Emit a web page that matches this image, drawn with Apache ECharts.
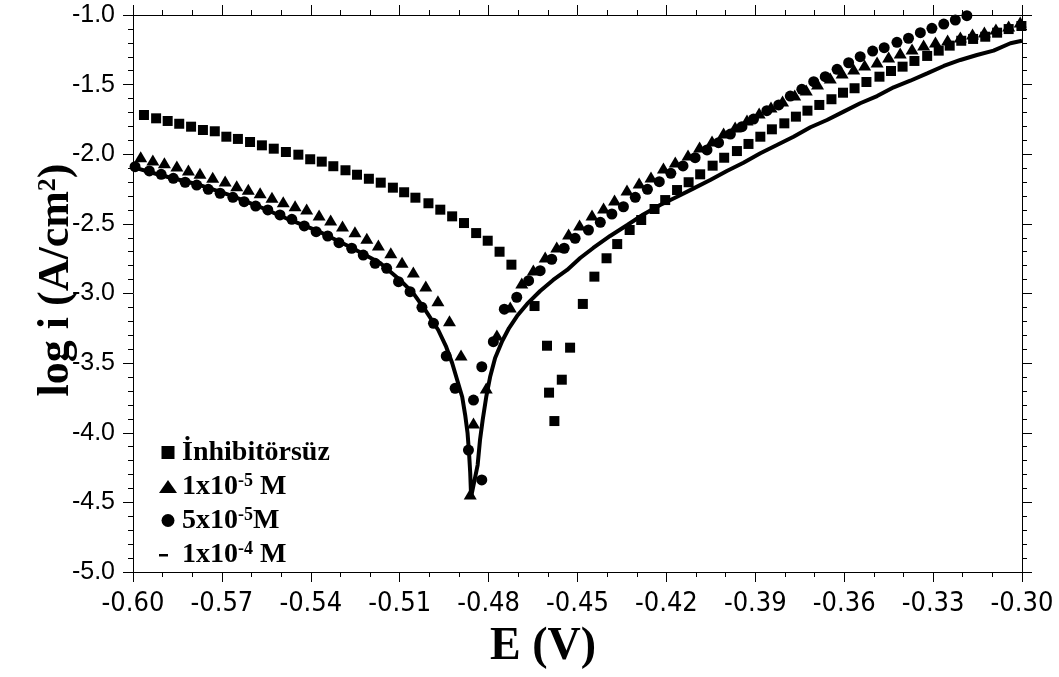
<!DOCTYPE html>
<html>
<head>
<meta charset="utf-8">
<script src="https://cdn.jsdelivr.net/npm/echarts@6/dist/echarts.min.js"></script>
<style>
  html, body { margin: 0; padding: 0; background: #fff; }
  #chart { width: 1059px; height: 677px; }
</style>
</head>
<body>
<div id="chart"></div>
<script>
// Tafel polarisation curves: potential E (V) vs log i (A/cm2)

const seriesNames = ['İnhibitörsüz', '1x10-5 M', '5x10-5 M', '1x10-4 M'];
const legendLabels = ['İnhibitörsüz', '1x10{sup|-5} M', '5x10{sup|-5}M', '1x10{sup|-4} M'];

const xTicks = { min: -0.60, max: -0.30, step: 0.03 };
const yTicks = { min: -5.0, max: -1.0, step: 0.5 };

// İnhibitörsüz (blank)
const blankE = [-0.5963, -0.5922, -0.5883, -0.5844, -0.5804, -0.5764, -0.5724, -0.5685, -0.5646, -0.5605,
  -0.5565, -0.5525, -0.5484, -0.5442, -0.5402, -0.5363, -0.5324, -0.5283, -0.5244, -0.5204,
  -0.5164, -0.5123, -0.5085, -0.5047, -0.5003, -0.4963, -0.4923, -0.4883, -0.4842, -0.4803,
  -0.4763, -0.4723, -0.4645, -0.4603, -0.4596, -0.4578, -0.4553, -0.4525, -0.4482,
  -0.4443, -0.4402, -0.4366, -0.4324, -0.4285, -0.4240, -0.4204, -0.4164, -0.4125, -0.4086,
  -0.4044, -0.4005, -0.3962, -0.3923, -0.3883, -0.3844, -0.3802, -0.3763, -0.3724, -0.3684,
  -0.3643, -0.3604, -0.3565, -0.3525, -0.3481, -0.3442, -0.3403, -0.3363, -0.3320, -0.3281,
  -0.3244, -0.3205, -0.3165, -0.3124, -0.3084, -0.3045, -0.3002];
const blankLogI = [-1.718, -1.742, -1.761, -1.781, -1.802, -1.826, -1.835, -1.874, -1.890, -1.912,
  -1.936, -1.960, -1.984, -2.003, -2.036, -2.053, -2.086, -2.115, -2.147, -2.176,
  -2.204, -2.240, -2.273, -2.312, -2.352, -2.398, -2.446, -2.494, -2.566, -2.621,
  -2.700, -2.793, -3.090, -3.375, -3.712, -3.916, -3.619, -3.389, -3.075,
  -2.879, -2.747, -2.645, -2.544, -2.472, -2.393, -2.329, -2.257, -2.201, -2.144,
  -2.082, -2.025, -1.977, -1.926, -1.874, -1.821, -1.778, -1.730, -1.687, -1.646,
  -1.605, -1.558, -1.526, -1.481, -1.443, -1.402, -1.371, -1.330, -1.294, -1.256,
  -1.220, -1.185, -1.172, -1.156, -1.127, -1.101, -1.079];

// 1x10-5 M
const c1E = [-0.5974, -0.5933, -0.5894, -0.5852, -0.5813, -0.5774, -0.5731, -0.5689, -0.5650, -0.5611,
  -0.5571, -0.5531, -0.5493, -0.5453, -0.5414, -0.5372, -0.5333, -0.5293, -0.5251, -0.5211,
  -0.5172, -0.5130, -0.5092, -0.5054, -0.5012, -0.4971, -0.4932, -0.4893, -0.4862,
  -0.4851, -0.4808, -0.4772, -0.4727, -0.4688, -0.4649, -0.4609, -0.4570, -0.4530, -0.4493,
  -0.4451, -0.4412, -0.4375, -0.4333, -0.4292, -0.4252, -0.4210, -0.4170, -0.4127, -0.4088,
  -0.4046, -0.4007, -0.3968, -0.3928, -0.3887, -0.3847, -0.3808, -0.3767, -0.3728, -0.3690,
  -0.3647, -0.3607, -0.3568, -0.3531, -0.3489, -0.3450, -0.3411, -0.3371, -0.3332, -0.3292,
  -0.3251, -0.3208, -0.3167, -0.3127, -0.3088, -0.3045, -0.3006];
const c1LogI = [-2.018, -2.041, -2.061, -2.084, -2.113, -2.137, -2.166, -2.192, -2.226, -2.252,
  -2.276, -2.309, -2.341, -2.369, -2.393, -2.436, -2.472, -2.515, -2.556, -2.604,
  -2.652, -2.707, -2.776, -2.846, -2.946, -3.052, -3.195, -3.442, -4.440,
  -3.930, -3.679, -3.298, -3.097, -2.925, -2.831, -2.738, -2.666, -2.573, -2.508,
  -2.436, -2.386, -2.329, -2.257, -2.206, -2.163, -2.099, -2.056, -2.005, -1.948,
  -1.905, -1.847, -1.804, -1.754, -1.704, -1.661, -1.618, -1.575, -1.539, -1.496,
  -1.452, -1.417, -1.388, -1.359, -1.338, -1.302, -1.273, -1.244, -1.215, -1.194,
  -1.180, -1.158, -1.136, -1.122, -1.101, -1.079, -1.050];

// 5x10-5 M
const c2E = [-0.5993, -0.5945, -0.5905, -0.5864, -0.5824, -0.5785, -0.5746, -0.5706, -0.5663, -0.5625,
  -0.5586, -0.5545, -0.5504, -0.5464, -0.5422, -0.5382, -0.5343, -0.5305, -0.5262, -0.5223,
  -0.5183, -0.5144, -0.5104, -0.5065, -0.5025, -0.4986, -0.4943, -0.4913, -0.4868, -0.4851,
  -0.4823, -0.4823, -0.4784,
  -0.4747, -0.4705, -0.4665, -0.4626, -0.4587, -0.4545, -0.4508, -0.4463, -0.4423, -0.4384,
  -0.4345, -0.4305, -0.4264, -0.4224, -0.4185, -0.4144, -0.4103, -0.4063, -0.4024, -0.3984,
  -0.3945, -0.3906, -0.3861, -0.3821, -0.3782, -0.3743, -0.3703, -0.3664, -0.3624, -0.3585,
  -0.3546, -0.3504, -0.3465, -0.3422, -0.3383, -0.3343, -0.3304, -0.3264, -0.3225, -0.3186];
const c2LogI = [-2.089, -2.120, -2.144, -2.173, -2.201, -2.221, -2.252, -2.280, -2.309, -2.341,
  -2.372, -2.400, -2.436, -2.467, -2.515, -2.556, -2.587, -2.635, -2.675, -2.724,
  -2.783, -2.819, -2.915, -2.987, -3.099, -3.214, -3.449, -3.681, -4.124, -3.765,
  -4.339, -3.526, -3.346,
  -3.113, -3.027, -2.908, -2.836, -2.754, -2.675, -2.604, -2.544, -2.489, -2.429,
  -2.377, -2.309, -2.252, -2.197, -2.137, -2.084, -2.025, -1.969, -1.917, -1.855,
  -1.802, -1.747, -1.687, -1.646, -1.582, -1.534, -1.479, -1.443, -1.390, -1.343,
  -1.299, -1.259, -1.235, -1.196, -1.167, -1.127, -1.096, -1.065, -1.036, -1.005];

// 1x10-4 M (continuous scan)
const c3E = [-0.6000, -0.5909, -0.5774, -0.5673, -0.5571, -0.5470, -0.5369, -0.5267, -0.5166, -0.5099,
  -0.5055, -0.5014, -0.4970, -0.4943, -0.4923, -0.4906, -0.4889, -0.4879, -0.4871, -0.4866,
  -0.4862, -0.4859,
  -0.4837, -0.4829, -0.4820, -0.4808, -0.4795, -0.4778, -0.4754, -0.4731, -0.4704, -0.4670,
  -0.4626, -0.4582, -0.4535, -0.4491, -0.4447, -0.4390, -0.4332, -0.4278, -0.4221, -0.4164,
  -0.4108, -0.4052, -0.3996, -0.3940, -0.3883, -0.3827, -0.3771, -0.3714, -0.3658, -0.3602,
  -0.3546, -0.3489, -0.3433, -0.3377, -0.3320, -0.3264, -0.3208, -0.3152, -0.3096, -0.3039,
  -0.3000];
const c3LogI = [-2.092, -2.149, -2.221, -2.293, -2.379, -2.472, -2.558, -2.666, -2.781, -2.903,
  -2.996, -3.118, -3.262, -3.384, -3.499, -3.621, -3.743, -3.873, -4.002, -4.145,
  -4.289, -4.461,
  -4.232, -4.052, -3.908, -3.743, -3.600, -3.463, -3.341, -3.248, -3.162, -3.075,
  -2.982, -2.903, -2.831, -2.745, -2.673, -2.587, -2.508, -2.433, -2.364, -2.305,
  -2.245, -2.185, -2.120, -2.061, -1.993, -1.934, -1.874, -1.806, -1.754, -1.694,
  -1.634, -1.582, -1.519, -1.472, -1.419, -1.366, -1.323, -1.287, -1.256, -1.203,
  -1.185];

const zip = (xs, ys) => xs.map((x, i) => [x, ys[i]]);

const black = '#000';
const tickFont = 'Liberation Sans';
const titleFont = 'Liberation Serif';

function xAxisDef(position, showLabel) {
  return {
    type: 'value', position: position,
    min: xTicks.min, max: xTicks.max, interval: xTicks.step,
    axisLine: { show: true, onZero: false, lineStyle: { color: black, width: 1 } },
    axisTick: { show: true, inside: false, length: 10, lineStyle: { color: black, width: 1 } },
    minorTick: { show: true, splitNumber: 3, length: 5, lineStyle: { color: black, width: 1 } },
    splitLine: { show: false }, minorSplitLine: { show: false },
    axisLabel: {
      show: showLabel, margin: 18, color: black,
      fontFamily: '"DejaVu Sans Condensed", "Liberation Sans"', fontSize: 27,
      formatter: v => v.toFixed(2)
    }
  };
}
function yAxisDef(position, showLabel) {
  return {
    type: 'value', position: position,
    min: yTicks.min, max: yTicks.max, interval: yTicks.step,
    axisLine: { show: true, onZero: false, lineStyle: { color: black, width: 1 } },
    axisTick: { show: true, inside: false, length: 10, lineStyle: { color: black, width: 1 } },
    minorTick: { show: true, splitNumber: 5, length: 5, lineStyle: { color: black, width: 1 } },
    splitLine: { show: false }, minorSplitLine: { show: false },
    axisLabel: {
      show: showLabel, margin: 18, color: black,
      fontFamily: tickFont, fontSize: 25,
      formatter: v => v.toFixed(1)
    }
  };
}

const chart = echarts.init(document.getElementById('chart'), null, { renderer: 'canvas' });

const markStyle = { color: black, opacity: 1 };

chart.setOption({
  backgroundColor: '#fff',
  animation: false,
  grid: { left: 133, right: 37, top: 15, bottom: 105, containLabel: false, outerBoundsMode: 'none' },
  xAxis: [xAxisDef('bottom', true), xAxisDef('top', false)],
  yAxis: [yAxisDef('left', true), yAxisDef('right', false)],
  legend: {
    orient: 'vertical', left: 154, top: 433,
    itemWidth: 18, itemHeight: 13, itemGap: 5,
    symbolKeepAspect: true,
    itemStyle: { borderWidth: 0, opacity: 1 },
    data: [
      { name: seriesNames[0], icon: 'path://M0,0h10v10h-10z' },
      { name: seriesNames[1], icon: 'path://M9,0L18,13L0,13Z' },
      { name: seriesNames[2], icon: 'circle' },
      { name: seriesNames[3], icon: 'path://M0,0M0,6L9,6L9,8.5L0,8.5ZM18,13' }
    ],
    formatter: name => legendLabels[seriesNames.indexOf(name)],
    textStyle: {
      color: black, fontFamily: titleFont, fontWeight: 'bold', fontSize: 28, lineHeight: 29,
      rich: {
        sup: { color: black, fontFamily: titleFont, fontWeight: 'bold', fontSize: 18, lineHeight: 14, verticalAlign: 'top' }
      }
    }
  },
  graphic: [
    {
      type: 'text', x: 543, y: 647,
      style: {
        text: 'E (V)', fill: black,
        font: 'bold 46px "Liberation Serif"',
        align: 'center', verticalAlign: 'middle', textAlign: 'center', textVerticalAlign: 'middle'
      }
    },
    {
      type: 'text', x: 57, y: 280, rotation: Math.PI / 2,
      style: {
        text: 'log i (A/cm{sup|2})', fill: black,
        font: 'bold 44px "Liberation Serif"',
        align: 'center', verticalAlign: 'middle', textAlign: 'center', textVerticalAlign: 'middle',
        rich: {
          sup: { fontFamily: titleFont, fontWeight: 'bold', fontSize: 26, lineHeight: 26, verticalAlign: 'top', fill: black }
        }
      }
    }
  ],
  series: [
    {
      name: seriesNames[0], type: 'scatter', xAxisIndex: 0, yAxisIndex: 0, clip: false,
      symbol: 'rect', symbolSize: 10, itemStyle: markStyle,
      data: zip(blankE, blankLogI)
    },
    {
      name: seriesNames[1], type: 'scatter', xAxisIndex: 0, yAxisIndex: 0, clip: false,
      symbol: 'triangle', symbolSize: [13, 11], itemStyle: markStyle,
      data: zip(c1E, c1LogI)
    },
    {
      name: seriesNames[2], type: 'scatter', xAxisIndex: 0, yAxisIndex: 0, clip: false,
      symbol: 'circle', symbolSize: 11, itemStyle: markStyle,
      data: zip(c2E, c2LogI)
    },
    {
      name: seriesNames[3], type: 'line', xAxisIndex: 0, yAxisIndex: 0,
      showSymbol: false, symbol: 'none', smooth: false,
      lineStyle: { color: black, width: 4 }, itemStyle: markStyle,
      data: zip(c3E, c3LogI)
    }
  ]
});
</script>
</body>
</html>
